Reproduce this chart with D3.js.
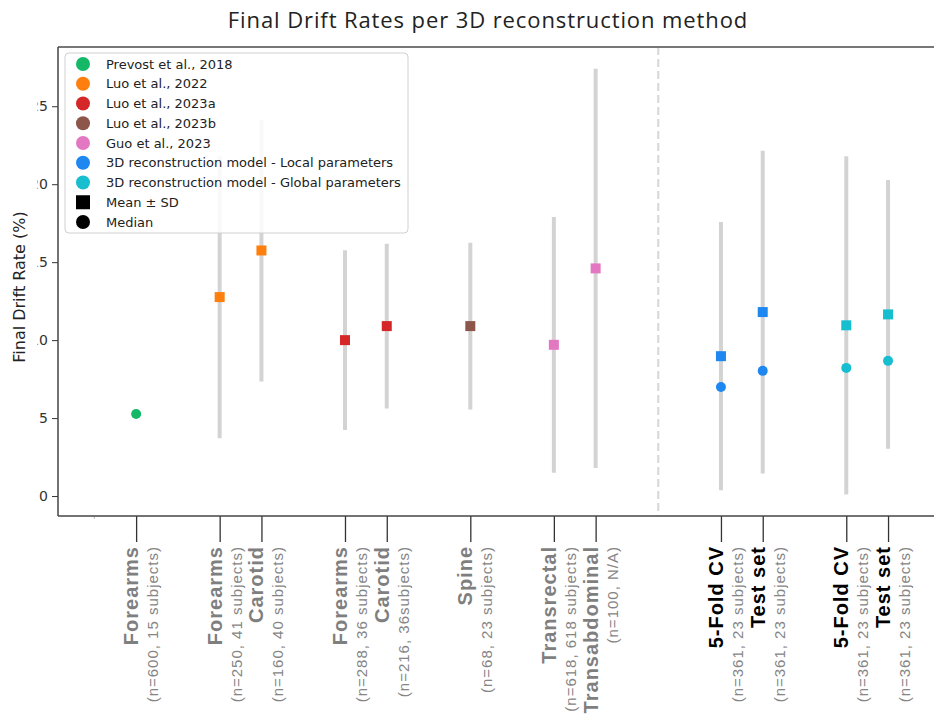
<!DOCTYPE html>
<html lang="en">
<head>
    <meta charset="utf-8">
    <title>Final Drift Rates</title>
    <script type="text/javascript" src="https://d3js.org/d3.v7.min.js"></script>
    <style>
        body { margin: 0; background: white; }
        svg { display: block; }
        .y.axis text { font-family: "DejaVu Sans", sans-serif; font-size: 14px; fill: #333; }
        .axis path, .axis line { stroke: #333; }
    </style>
</head>
<body>
    <div id="chart"></div>
    <script type="text/javascript">
        // data
        const categories = ["Forearms", "Forearms", "Carotid", "Forearms", "Carotid", "Spine",
            "Transrectal", "Transabdominal", "5-Fold CV", "Test set", "5-Fold CV", "Test set"];
        const subtitles = ["(n=600, 15 subjects)", "(n=250, 41 subjects)", "(n=160, 40 subjects)",
            "(n=288, 36 subjects)", "(n=216, 36subjects)", "(n=68, 23 subjects)",
            "(n=618, 618 subjects)", "(n=100, N/A)", "(n=361, 23 subjects)",
            "(n=361, 23 subjects)", "(n=361, 23 subjects)", "(n=361, 23 subjects)"];
        const sources = ["Prevost et al., 2018", "Luo et al., 2022", "Luo et al., 2022",
            "Luo et al., 2023a", "Luo et al., 2023a", "Luo et al., 2023b",
            "Guo et al., 2023", "Guo et al., 2023",
            "3D reconstruction model - Local parameters", "3D reconstruction model - Local parameters",
            "3D reconstruction model - Global parameters", "3D reconstruction model - Global parameters"];
        const means   = [null, 12.76, 15.75, 10.0, 10.9, 10.9, 9.7, 14.6, 8.97, 11.8, 10.95, 11.65];
        const sds     = [null, 9.05, 8.4, 5.77, 5.28, 5.35, 8.2, 12.8, 8.6, 10.35, 10.85, 8.62];
        const medians = [5.26, null, null, null, null, null, null, null, 6.99, 8.03, 8.22, 8.67];

        const sourceNames = ["Prevost et al., 2018", "Luo et al., 2022", "Luo et al., 2023a",
            "Luo et al., 2023b", "Guo et al., 2023",
            "3D reconstruction model - Local parameters", "3D reconstruction model - Global parameters"];
        const sourceColors = ["#14b866", "#ff7f0e", "#d62728", "#8c564b", "#e377c2", "#1f88f0", "#17becf"];
        const yTicks = [0, 5, 10, 15, 20, 25];

        const width = 934;
        const height = 715;
        const plot = {left: 58, right: 934, top: 47, bottom: 516};

        const isOurs = s => s.startsWith("3D reconstruction");
        const color = d3.scaleOrdinal().domain(sourceNames).range(sourceColors);

        // slot positions: gap between groups, a wider gap before our model
        const slots = [];
        sources.forEach((s, i) => {
            if (i === 0) slots.push(0);
            else if (s === sources[i - 1]) slots.push(slots[i - 1] + 1);
            else if (isOurs(s) && !isOurs(sources[i - 1])) slots.push(slots[i - 1] + 3);
            else slots.push(slots[i - 1] + 2);
        });
        const firstOurs = sources.findIndex(isOurs);
        const dividerSlot = (slots[firstOurs] + slots[firstOurs - 1]) / 2;

        const dataset = categories.map((c, i) => ({
            name: c, sub: subtitles[i], source: sources[i], slot: slots[i],
            mean: means[i], sd: sds[i], median: medians[i]
        }));

        const x = d3.scaleLinear().domain([-1.87, 19.1]).range([plot.left, plot.right]);
        const y = d3.scaleLinear().domain([-1.28, 28.8]).range([plot.bottom, plot.top]);

        const svg = d3.select("#chart").append("svg")
            .attr("width", width).attr("height", height);

        // the tick labels of the original are cut on the left
        svg.append("defs").append("clipPath").attr("id", "ylab-clip")
            .append("rect").attr("x", 37.5 - plot.left).attr("y", -20).attr("width", 30).attr("height", 40);

        // title
        svg.append("text")
            .attr("x", 488).attr("y", 28)
            .attr("text-anchor", "middle")
            .style("font-family", "'Open Sans', sans-serif")
            .style("font-size", "22px")
            .style("letter-spacing", "0.9px")
            .style("fill", "#222")
            .text("Final Drift Rates per 3D reconstruction method");

        // y axis label
        svg.append("text")
            .attr("transform", "translate(25, 287) rotate(-90)")
            .attr("text-anchor", "middle")
            .style("font-family", "'DejaVu Sans', sans-serif")
            .style("font-size", "16px")
            .style("fill", "#222")
            .text("Final Drift Rate (%)");

        // y axis
        const yAxis = svg.append("g")
            .attr("class", "axis y")
            .attr("transform", `translate(${plot.left}, 0)`)
            .call(d3.axisLeft(y).tickValues(yTicks).tickSize(6).tickSizeOuter(0).tickPadding(4));
        yAxis.select(".domain").remove();
        yAxis.selectAll("text").attr("x", -10).attr("clip-path", "url(#ylab-clip)");

        // x axis ticks
        const xAxis = svg.append("g")
            .attr("class", "axis x")
            .attr("transform", `translate(0, ${plot.bottom})`)
            .call(d3.axisBottom(x).tickValues(slots).tickSize(26).tickSizeOuter(0).tickFormat(""));
        xAxis.select(".domain").remove();
        xAxis.selectAll("line").attr("stroke", "#111").attr("stroke-width", 1.3);

        svg.append("line")
            .attr("x1", x(-1)).attr("x2", x(-1))
            .attr("y1", plot.bottom).attr("y2", plot.bottom + 3)
            .attr("stroke", "#bbb");

        // x tick labels (rotated, two lines)
        const labels = svg.append("g").attr("class", "xlabels")
            .selectAll("g")
            .data(dataset)
            .enter()
            .append("g")
            .attr("transform", d => `translate(${x(d.slot)}, 546) rotate(-90)`);
        labels.append("text")
            .attr("x", 0).attr("y", 2)
            .attr("text-anchor", "end")
            .style("font-family", "'Liberation Sans', Arial, sans-serif")
            .style("font-weight", "bold")
            .style("font-size", "20px")
            .style("letter-spacing", "1px")
            .style("fill", d => isOurs(d.source) ? "#000" : "#7f7f7f")
            .text(d => d.name);
        labels.append("text")
            .attr("x", 0).attr("y", 22)
            .attr("text-anchor", "end")
            .style("font-family", "'Liberation Sans', Arial, sans-serif")
            .style("font-size", "15px")
            .style("letter-spacing", "1px")
            .style("fill", "#858585")
            .text(d => d.sub);

        // divider
        svg.append("line")
            .attr("x1", x(dividerSlot)).attr("x2", x(dividerSlot))
            .attr("y1", plot.top).attr("y2", plot.bottom)
            .attr("stroke", "#d6d6d6")
            .attr("stroke-width", 2)
            .attr("stroke-dasharray", "8,4");

        // error bars
        svg.append("g").attr("class", "bars")
            .selectAll("line")
            .data(dataset.filter(d => d.mean !== null))
            .enter()
            .append("line")
            .attr("x1", d => x(d.slot)).attr("x2", d => x(d.slot))
            .attr("y1", d => y(d.mean + d.sd)).attr("y2", d => y(d.mean - d.sd))
            .attr("stroke", "#d3d3d3")
            .attr("stroke-width", 4);

        // means (squares)
        svg.append("g").attr("class", "means")
            .selectAll("rect")
            .data(dataset.filter(d => d.mean !== null))
            .enter()
            .append("rect")
            .attr("x", d => x(d.slot) - 5).attr("y", d => y(d.mean) - 5)
            .attr("width", 10).attr("height", 10)
            .attr("fill", d => color(d.source));

        // medians (circles)
        svg.append("g").attr("class", "medians")
            .selectAll("circle")
            .data(dataset.filter(d => d.median !== null))
            .enter()
            .append("circle")
            .attr("cx", d => x(d.slot)).attr("cy", d => y(d.median))
            .attr("r", 5)
            .attr("fill", d => color(d.source));

        // spines
        const spines = svg.append("g").attr("stroke", "#444").attr("stroke-width", 1.5);
        spines.append("line").attr("x1", plot.left).attr("x2", plot.right)
            .attr("y1", plot.top).attr("y2", plot.top).attr("stroke", "#777").attr("stroke-width", 2);
        spines.append("line").attr("x1", plot.left).attr("x2", plot.right)
            .attr("y1", plot.bottom).attr("y2", plot.bottom);
        spines.append("line").attr("x1", plot.left).attr("x2", plot.left)
            .attr("y1", plot.top).attr("y2", plot.bottom);

        // legend
        const legendItems = sourceNames.map(s => ({label: s, color: color(s), shape: "circle"}))
            .concat([{label: "Mean \u00b1 SD", color: "#000", shape: "square"},
                     {label: "Median", color: "#000", shape: "circle"}]);
        const legend = svg.append("g").attr("class", "legend");
        legend.append("rect")
            .attr("x", 65).attr("y", 53).attr("width", 343).attr("height", 180)
            .attr("rx", 4)
            .attr("fill", "white").attr("fill-opacity", 0.85)
            .attr("stroke", "#d0d0d0");
        const rows = legend.selectAll("g.row")
            .data(legendItems)
            .enter()
            .append("g")
            .attr("class", "row")
            .attr("transform", (d, i) => `translate(83, ${64 + i * 19.75})`);
        rows.filter(d => d.shape === "circle").append("circle")
            .attr("r", 7).attr("fill", d => d.color);
        rows.filter(d => d.shape === "square").append("rect")
            .attr("x", -7).attr("y", -7).attr("width", 14).attr("height", 14)
            .attr("fill", d => d.color);
        rows.append("text")
            .attr("x", 23).attr("y", 4.5)
            .style("font-family", "'DejaVu Sans', sans-serif")
            .style("font-size", "13px")
            .style("fill", "#222")
            .text(d => d.label);
    </script>
</body>
</html>
